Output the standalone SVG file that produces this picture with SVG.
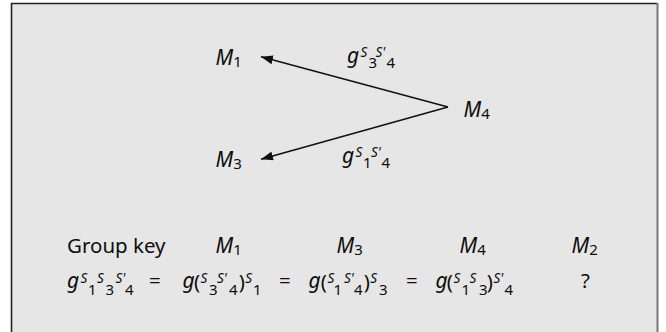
<svg xmlns="http://www.w3.org/2000/svg" width="666" height="332" viewBox="0 0 666 332">
<defs>
<style>
text{font-family:"Noto Sans","Open Sans","Liberation Sans",sans-serif;fill:#0d0d0d;}
.m{font-size:21px;font-style:italic;}
.r{font-size:20.5px;}
.sub{font-size:15px;font-style:normal;}
.sup{font-size:13.5px;font-style:italic;}
.edge{stroke:#111;stroke-width:1.5;fill:none;}
</style>
<marker id="ah" viewBox="0 0 12 9" refX="12" refY="4.5" markerWidth="12" markerHeight="9" markerUnits="userSpaceOnUse" orient="auto">
<path d="M0,0 L12,4.5 L0,9 Z" fill="#111"/>
</marker>
</defs>
<rect x="0" y="0" width="666" height="332" fill="#ffffff"/>
<rect x="12" y="4" width="645" height="340" fill="#e6e6e6"/>
<line x1="11.5" y1="3" x2="11.5" y2="332" stroke="#222" stroke-width="1.6"/>
<line x1="11" y1="3.5" x2="657" y2="3.5" stroke="#222" stroke-width="1.6"/>
<line x1="657.5" y1="3" x2="657.5" y2="332" stroke="#777" stroke-width="2"/>

<g id="connectors">
<line class="edge" x1="448" y1="107" x2="261" y2="56.8" marker-end="url(#ah)"/>
<line class="edge" x1="448" y1="107" x2="261" y2="159.2" marker-end="url(#ah)"/>
<g id="label-top">
<text class="m" x="347" y="62.5">g</text>
<text class="sup" x="360.5" y="56.7">S</text>
<text class="sub" x="368.5" y="67.7">3</text>
<text class="sup" x="375.5" y="56.7">S'</text>
<text class="sub" x="386.5" y="67.7">4</text>
</g>
<g id="label-bottom">
<text class="m" x="342" y="162.5">g</text>
<text class="sup" x="355.5" y="156.7">S</text>
<text class="sub" x="363" y="168">1</text>
<text class="sup" x="371" y="156.7">S'</text>
<text class="sub" x="381.5" y="168">4</text>
</g>
</g>

<g id="node-M1"><text class="m" x="215.5" y="65">M<tspan class="sub" dy="2">1</tspan></text></g>
<g id="node-M3"><text class="m" x="215.5" y="166.5">M<tspan class="sub" dy="2">3</tspan></text></g>
<g id="node-M4"><text class="m" x="463.5" y="116.5">M<tspan class="sub" dy="2">4</tspan></text></g>

<g id="table-header">
<text class="r" x="67" y="253">Group key</text>
<text class="m" x="215.5" y="253">M<tspan class="sub" dy="2">1</tspan></text>
<text class="m" x="336.5" y="253">M<tspan class="sub" dy="2">3</tspan></text>
<text class="m" x="459.5" y="253">M<tspan class="sub" dy="2">4</tspan></text>
<text class="m" x="571.5" y="253">M<tspan class="sub" dy="2">2</tspan></text>
</g>

<g id="table-keys">
<text class="m" x="67" y="288">g</text>
<text class="sup" x="80.5" y="283">S</text>
<text class="sub" x="88" y="295">1</text>
<text class="sup" x="97" y="283">S</text>
<text class="sub" x="105.5" y="295">3</text>
<text class="sup" x="115.5" y="283">S'</text>
<text class="sub" x="125" y="295">4</text>
<text class="r" x="149" y="288">=</text>

<text class="m" x="182.5" y="288">g</text>
<text class="r" x="194" y="289">(</text>
<text class="sup" x="200.5" y="283">S</text>
<text class="sub" x="209" y="295">3</text>
<text class="sup" x="217" y="283">S'</text>
<text class="sub" x="229" y="295">4</text>
<text class="r" x="238.8" y="289">)</text>
<text class="sup" x="245.3" y="283">S</text>
<text class="sub" x="253" y="295">1</text>
<text class="r" x="279" y="288">=</text>

<text class="m" x="308.5" y="288">g</text>
<text class="r" x="320.8" y="289">(</text>
<text class="sup" x="327.4" y="283">S</text>
<text class="sub" x="333.5" y="295">1</text>
<text class="sup" x="344" y="283">S'</text>
<text class="sub" x="354" y="295">4</text>
<text class="r" x="363.8" y="289">)</text>
<text class="sup" x="370.3" y="283">S</text>
<text class="sub" x="379" y="295">3</text>
<text class="r" x="406" y="288">=</text>

<text class="m" x="435.5" y="288">g</text>
<text class="r" x="446.8" y="289">(</text>
<text class="sup" x="453.4" y="283">S</text>
<text class="sub" x="461.5" y="295">1</text>
<text class="sup" x="469.5" y="283">S</text>
<text class="sub" x="479" y="295">3</text>
<text class="r" x="486.8" y="289">)</text>
<text class="sup" x="493.4" y="283">S'</text>
<text class="sub" x="504.5" y="295">4</text>
<text class="r" x="581" y="288">?</text>
</g>
</svg>
